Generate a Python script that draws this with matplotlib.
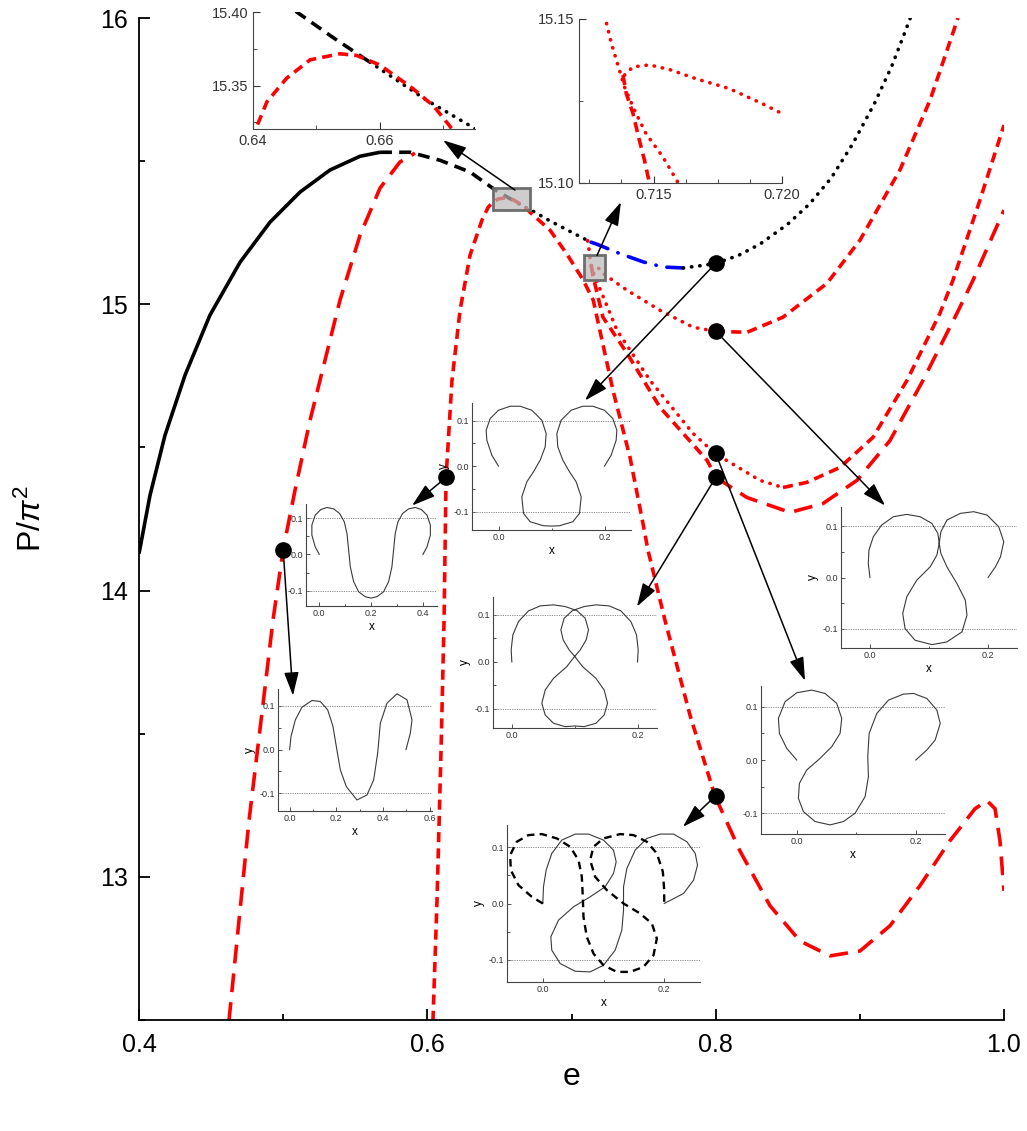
import numpy as np
import matplotlib
matplotlib.use('Agg')
import matplotlib.pyplot as plt
from matplotlib.patches import Rectangle
from matplotlib.ticker import MultipleLocator, FormatStrFormatter

plt.rcParams['font.family'] = ['Liberation Sans', 'DejaVu Sans']
plt.rcParams['mathtext.fontset'] = 'custom'
plt.rcParams['mathtext.rm'] = 'Liberation Sans'
plt.rcParams['mathtext.it'] = 'Liberation Sans:italic'

# ---- main branches (e, P/pi^2) ----
bs_x = [0.4, 0.4076, 0.418, 0.4319, 0.4492, 0.4701, 0.4909, 0.5117, 0.5325, 0.5533, 0.5672]
bs_y = [14.129, 14.332, 14.542, 14.752, 14.962, 15.147, 15.287, 15.392, 15.469, 15.517, 15.531]
bd_x = [0.5672, 0.588, 0.6088, 0.6296, 0.6469, 0.6525, 0.6584]
bd_y = [15.531, 15.531, 15.503, 15.462, 15.40, 15.383, 15.366]
bt1_x = [0.6584, 0.6674, 0.6749, 0.683, 0.692, 0.7015, 0.7107, 0.7135]
bt1_y = [15.366, 15.34, 15.321, 15.297, 15.273, 15.248, 15.224, 15.217]
bl_x = [0.7135, 0.7175, 0.7336, 0.7498, 0.7637, 0.7775]
bl_y = [15.217, 15.21, 15.177, 15.148, 15.13, 15.127]
bt2_x = [0.7775, 0.7914, 0.8, 0.8155, 0.8307, 0.85, 0.865, 0.88, 0.895, 0.91, 0.922, 0.932, 0.935]
bt2_y = [15.127, 15.136, 15.143, 15.17, 15.21, 15.28, 15.35, 15.44, 15.56, 15.70, 15.83, 15.96, 16.0]

rl_x = [0.4624, 0.4763, 0.4874, 0.4929, 0.5, 0.5082, 0.5186, 0.529, 0.5394, 0.5533, 0.5672, 0.581, 0.5914]
rl_y = [12.497, 13.196, 13.661, 13.895, 14.143, 14.35, 14.594, 14.804, 15.014, 15.241, 15.406, 15.497, 15.528]

rm1_x = [0.6039, 0.6067, 0.6095, 0.6116, 0.613, 0.6171, 0.6227, 0.6296, 0.6379, 0.6422, 0.6453, 0.649,
         0.6537, 0.6563, 0.66, 0.6652, 0.6685, 0.6713, 0.6851, 0.6966, 0.7082, 0.7151, 0.7288, 0.7406,
         0.7496, 0.7531, 0.7649, 0.7823, 0.7995]
rm1_y = [12.497, 12.916, 13.44, 13.895, 14.395, 14.734, 14.979, 15.171, 15.294, 15.339, 15.355, 15.3675,
         15.3716, 15.3705, 15.364, 15.348, 15.336, 15.321, 15.259, 15.177, 15.084, 15.014, 14.699, 14.465,
         14.234, 14.14, 13.895, 13.563, 13.283]
rm2_x = [0.7995, 0.8169, 0.8377, 0.8585, 0.8793, 0.9001, 0.9209, 0.9417, 0.9625, 0.9799, 0.9882, 0.9938, 0.9972, 1.0]
rm2_y = [13.283, 13.09, 12.899, 12.776, 12.724, 12.741, 12.829, 12.969, 13.126, 13.238, 13.266, 13.238, 13.126, 12.951]

ra1_x = [0.7112, 0.7122, 0.71313, 0.71336, 0.71365, 0.71387, 0.71426, 0.71471, 0.71536, 0.71594,
         0.7316, 0.7545, 0.7843, 0.7995, 0.8307, 0.8467]
ra1_y = [15.222, 15.19, 15.15, 15.1426, 15.135, 15.1293, 15.1222, 15.115, 15.108, 15.1003,
         14.909, 14.734, 14.549, 14.479, 14.385, 14.36]
ra2_x = [0.8467, 0.8633, 0.8862, 0.9091, 0.9327, 0.9556, 0.9646, 0.9833, 1.0]
ra2_y = [14.36, 14.378, 14.43, 14.535, 14.734, 14.969, 15.084, 15.364, 15.626]

rb1_x = [0.71381, 0.71394, 0.7142, 0.71445, 0.71465, 0.71484, 0.7218, 0.7385, 0.7614, 0.794, 0.8003]
rb1_y = [15.1329, 15.1273, 15.1212, 15.113, 15.1069, 15.10, 14.955, 14.829, 14.64, 14.455, 14.395]
rb2_x = [0.8003, 0.8217, 0.8516, 0.8744, 0.898, 0.9209, 0.9438, 0.9674, 0.9785, 1.0]
rb2_y = [14.395, 14.325, 14.273, 14.304, 14.385, 14.524, 14.734, 14.969, 15.084, 15.329]

rc1_x = [0.71387, 0.7142, 0.71484, 0.71562, 0.71665, 0.71794, 0.71923, 0.71994, 0.7218, 0.7385, 0.7614, 0.7843, 0.7995]
rc1_y = [15.1329, 15.1354, 15.136, 15.1346, 15.1318, 15.1288, 15.1242, 15.1214, 15.108, 15.049, 14.979, 14.92, 14.906]
rc2_x = [0.7995, 0.8217, 0.8467, 0.8772, 0.9001, 0.9278, 0.9487, 0.9681]
rc2_y = [14.906, 14.902, 14.955, 15.073, 15.224, 15.469, 15.713, 16.0]

pts_x = [0.5, 0.613, 0.8, 0.8, 0.8, 0.8, 0.8]
pts_y = [14.143, 14.395, 15.143, 14.906, 14.479, 14.395, 13.283]
# arrow targets (e, P) for each point, same order
arr_x = [0.5068, 0.5894, 0.7094, 0.9175, 0.862, 0.7454, 0.7773]
arr_y = [13.633, 14.297, 14.664, 14.297, 13.685, 13.944, 13.175]

# ---- shapes in the small panels (x, y) ----
s3_x = [0, -0.0126, -0.022, -0.0233, -0.0157, 0, 0.022, 0.0409, 0.0629, 0.0818, 0.0899, 0.0881, 0.0786,
        0.066, 0.0535, 0.044, 0.0472, 0.0597, 0.0849, 0.1]
s3_y = [0, 0.0241, 0.0569, 0.0788, 0.1044, 0.1226, 0.1314, 0.1314, 0.1226, 0.1007, 0.0715, 0.0423, 0.0131,
        -0.0124, -0.0343, -0.0672, -0.1036, -0.1219, -0.1307, -0.1314]
s4_x = [0, -0.0155, -0.0284, -0.0284, -0.0155, 0.0064, 0.0296, 0.0554, 0.0786, 0.0966, 0.107, 0.1134,
        0.1198, 0.1327, 0.152, 0.1778, 0.2]
s4_y = [0, 0.0211, 0.0532, 0.0807, 0.1083, 0.1239, 0.1294, 0.1257, 0.1128, 0.0899, 0.0578, 0.0119,
        -0.034, -0.0752, -0.1028, -0.1165, -0.1202]
s5_x = [0, 0.0057, 0.0243, 0.0529, 0.0957, 0.1314, 0.1629, 0.1857, 0.2, 0.2171, 0.2429, 0.2886, 0.3314,
        0.36, 0.3771, 0.3886, 0.4171, 0.46, 0.5029, 0.5243, 0.5171, 0.4986]
s5_y = [0, 0.0299, 0.0682, 0.0973, 0.1126, 0.1103, 0.0912, 0.0529, 0.0069, -0.0467, -0.0851, -0.1157,
        -0.1042, -0.0697, -0.0084, 0.0605, 0.1065, 0.128, 0.1142, 0.0682, 0.0375, 0]
s6_x = [0, -0.0011, 0.0016, 0.0106, 0.0265, 0.0451, 0.0663, 0.0849, 0.1034, 0.1167, 0.122, 0.1183, 0.1088,
        0.0997, 0.0875, 0.0663, 0.0531, 0.0477, 0.0531, 0.0663, 0.0849, 0.1]
s6_y = [0, 0.0255, 0.0574, 0.0858, 0.1085, 0.1191, 0.1213, 0.1177, 0.1092, 0.0929, 0.0681, 0.0468, 0.0255,
        0.0113, -0.0099, -0.0348, -0.0596, -0.0879, -0.1128, -0.1305, -0.1376, -0.1362]
s7_x = [0, -0.0028, -0.0017, 0.0057, 0.0198, 0.0397, 0.0623, 0.085, 0.1048, 0.115, 0.1173, 0.1133, 0.102,
        0.0793, 0.0623, 0.0555, 0.0595, 0.0765, 0.1048, 0.1303, 0.1558, 0.1643, 0.1615, 0.1473, 0.1303,
        0.1201, 0.1173, 0.1201, 0.1303, 0.153, 0.1756, 0.1983, 0.2181, 0.2266, 0.221, 0.2125, 0.2]
s7_y = [0, 0.0275, 0.0536, 0.0797, 0.1026, 0.119, 0.1235, 0.119, 0.1059, 0.0863, 0.0667, 0.0438, 0.0209,
        -0.0052, -0.0379, -0.0706, -0.1, -0.1229, -0.1314, -0.1261, -0.1065, -0.0739, -0.0444, -0.0118, 0.0209,
        0.0471, 0.0667, 0.0895, 0.1124, 0.1255, 0.1288, 0.1222, 0.0993, 0.0699, 0.0405, 0.0209, 0]
s8_x = [0, -0.0168, -0.0291, -0.0308, -0.0196, 0, 0.0252, 0.0476, 0.0672, 0.0756, 0.0728, 0.0588, 0.0392,
        0.0168, 0.0045, 0.0028, 0.0112, 0.0308, 0.056, 0.0784, 0.098, 0.1148, 0.1204, 0.1193, 0.1216, 0.1345,
        0.1541, 0.1793, 0.1961, 0.2185, 0.2353, 0.241, 0.2325, 0.2185, 0.2]
s8_y = [0, 0.0219, 0.05, 0.0781, 0.1094, 0.1263, 0.1313, 0.125, 0.1063, 0.0781, 0.05, 0.025, 0.0031,
        -0.0188, -0.0438, -0.0719, -0.0969, -0.1156, -0.1219, -0.1156, -0.1, -0.0688, -0.0313, 0.0063, 0.05,
        0.0875, 0.1125, 0.1238, 0.125, 0.1156, 0.0938, 0.0688, 0.0375, 0.0188, 0]
s9a_x = [0, 0.0011, 0.0055, 0.0148, 0.0313, 0.0533, 0.0753, 0.1, 0.1165, 0.1209, 0.1165, 0.1027, 0.078,
         0.0505, 0.0258, 0.0132, 0.0148, 0.0286, 0.0533, 0.078, 0.1, 0.1192, 0.1302, 0.133, 0.133, 0.1385,
         0.1522, 0.1714, 0.1934, 0.2154, 0.2374, 0.2511, 0.2549, 0.2484, 0.2319, 0.2]
s9a_y = [0, 0.0298, 0.0595, 0.0893, 0.1131, 0.1238, 0.1238, 0.1131, 0.0952, 0.0744, 0.0536, 0.0298, 0.0119,
         -0.006, -0.0298, -0.0595, -0.0833, -0.1071, -0.1208, -0.122, -0.1101, -0.0833, -0.0476, -0.0119, 0.0298,
         0.0625, 0.0952, 0.1161, 0.1238, 0.1238, 0.1101, 0.0893, 0.0685, 0.0417, 0.0179, 0]
s9b_x = [0, -0.0181, -0.0401, -0.0527, -0.0538, -0.0429, -0.0236, -0.0016, 0.0231, 0.0451, 0.0588, 0.0643,
         0.0659, 0.067, 0.0725, 0.0835, 0.1, 0.122, 0.144, 0.1659, 0.1824, 0.1879, 0.1797, 0.1604, 0.133,
         0.1055, 0.0863, 0.078, 0.0835, 0.1, 0.1275, 0.1495, 0.1714, 0.1879, 0.1978, 0.2, 0.2]
s9b_y = [0, 0.0119, 0.0327, 0.0595, 0.0863, 0.1101, 0.122, 0.1238, 0.1161, 0.1012, 0.0774, 0.0476,
         0.0119, -0.0238, -0.0595, -0.0893, -0.1101, -0.122, -0.122, -0.1131, -0.0923, -0.0625, -0.0357, -0.0179, 0,
         0.0238, 0.0476, 0.0774, 0.1012, 0.1161, 0.1238, 0.122, 0.1101, 0.0893, 0.0565, 0.0238, 0.003]

W, H = 1027, 1131
fig = plt.figure(figsize=(W / 100, H / 100), dpi=100)


def box(l, t, r, b):
    return [l / W, 1 - b / H, (r - l) / W, (b - t) / H]


LW = 2.6
SOLID = None
DASH = (2.8, 1.7)
LONG = (5.2, 2.8)
BDASH = (3.3, 2.0)
DOT = (0.1, 2.2)
DASHDOT = (5.0, 3.0, 0.1, 3.0)


def line(a, x, y, color, dashes, lw=LW, rnd=False):
    l, = a.plot(x, y, color=color, lw=lw, solid_capstyle='butt', solid_joinstyle='round')
    if dashes is not None:
        l.set_dashes(dashes)
        l.set_dash_capstyle('round' if rnd else 'butt')
    return l


def branches(a):
    line(a, bs_x, bs_y, 'k', SOLID)
    line(a, bd_x, bd_y, 'k', BDASH)
    line(a, bt1_x, bt1_y, 'k', DOT, rnd=True)
    line(a, bl_x, bl_y, '#0000ff', DASHDOT, rnd=True)
    line(a, bt2_x, bt2_y, 'k', DOT, rnd=True)
    line(a, rl_x, rl_y, '#ff0000', LONG)
    line(a, rm1_x, rm1_y, '#ff0000', DASH)
    line(a, rm2_x, rm2_y, '#ff0000', LONG)
    line(a, ra1_x, ra1_y, '#ff0000', DOT, rnd=True)
    line(a, ra2_x, ra2_y, '#ff0000', DASH)
    line(a, rb1_x, rb1_y, '#ff0000', DASH)
    line(a, rb2_x, rb2_y, '#ff0000', LONG)
    line(a, rc1_x, rc1_y, '#ff0000', DOT, rnd=True)
    line(a, rc2_x, rc2_y, '#ff0000', DASH)


ax = fig.add_axes(box(139, 18, 1004, 1020))
ax.patch.set_alpha(0)
branches(ax)
ax.set_xlim(0.4, 1.0)
ax.set_ylim(12.5, 16.0)
for s in ['top', 'right']:
    ax.spines[s].set_visible(False)
for s in ['left', 'bottom']:
    ax.spines[s].set_linewidth(1.3)
ax.xaxis.set_major_locator(MultipleLocator(0.2))
ax.xaxis.set_minor_locator(MultipleLocator(0.1))
ax.yaxis.set_major_locator(MultipleLocator(1))
ax.yaxis.set_minor_locator(MultipleLocator(0.5))
ax.xaxis.set_major_formatter(FormatStrFormatter('%.1f'))
ax.yaxis.set_major_formatter(FormatStrFormatter('%d'))
ax.tick_params(which='both', direction='in', width=1.3, labelsize=18)
ax.tick_params(which='major', length=8)
ax.tick_params(which='minor', length=4)
ax.tick_params(axis='x', pad=9)
ax.tick_params(axis='y', pad=8)
ax.set_xlabel('e', fontsize=23)
ax.set_ylabel(r'P/$\pi^2$', fontsize=23)
ax.xaxis.set_label_coords(0.5, -0.042)
ax.yaxis.set_label_coords(-0.105, 0.5)

ax.add_patch(Rectangle((0.6455, 15.3287), 0.0257, 0.0769, facecolor=(0.72, 0.72, 0.72, 0.7),
                       edgecolor='#6e6e6e', lw=2, zorder=5))
ax.add_patch(Rectangle((0.7087, 15.084), 0.0145, 0.087, facecolor=(0.72, 0.72, 0.72, 0.7),
                       edgecolor='#6e6e6e', lw=2, zorder=5))

ap = dict(arrowstyle='-|>,head_length=0.8,head_width=0.25', color='k', lw=1.1,
          mutation_scale=18, shrinkA=0, shrinkB=0)
for px, py, tx, ty in zip(pts_x, pts_y, arr_x, arr_y):
    ax.annotate('', xy=(tx, ty), xytext=(px, py), arrowprops=ap, zorder=6)
ax.annotate('', xy=(0.6109, 15.573), xytext=(0.6608, 15.399), arrowprops=ap, zorder=6)
ax.annotate('', xy=(0.7343, 15.357), xytext=(0.7177, 15.171), arrowprops=ap, zorder=6)
ax.plot(pts_x, pts_y, 'o', color='k', ms=11, zorder=7, clip_on=False)


def zoom_inset(rect, xlim, ylim, xt, yt, xminor, yminor, xfmt, yfmt):
    a = fig.add_axes(box(*rect))
    a.patch.set_alpha(0)
    branches(a)
    a.set_xlim(*xlim)
    a.set_ylim(*ylim)
    for s in ['top', 'right']:
        a.spines[s].set_visible(False)
    for s in ['left', 'bottom']:
        a.spines[s].set_color('#444444')
    a.set_xticks(xt)
    a.set_yticks(yt)
    a.xaxis.set_minor_locator(MultipleLocator(xminor))
    a.yaxis.set_minor_locator(MultipleLocator(yminor))
    a.xaxis.set_major_formatter(FormatStrFormatter(xfmt))
    a.yaxis.set_major_formatter(FormatStrFormatter(yfmt))
    a.tick_params(which='both', direction='in', labelsize=10.5, colors='#333333')
    a.tick_params(which='major', length=5)
    a.tick_params(which='minor', length=3)
    return a


zoom_inset((253, 12, 475, 129), (0.64, 0.675), (15.3205, 15.40), [0.64, 0.66], [15.35, 15.40],
           0.01, 0.025, '%.2f', '%.2f')
zoom_inset((579, 19, 782, 183), (0.7121, 0.72), (15.10, 15.15), [0.715, 0.72], [15.10, 15.15],
           0.00125, 0.025, '%.3f', '%.2f')


def shape_inset(rect, xlim, ylim, xt, curves, xl=True, yl=True):
    a = fig.add_axes(box(*rect))
    a.patch.set_alpha(0)
    for yv in (0.1, -0.1):
        a.axhline(yv, color='#8a8a8a', lw=0.7, ls=(0, (1.2, 1.2)))
    for x, y, st in curves:
        if st == 'dash':
            a.plot(x, y, color='k', lw=1.7, dashes=(3.2, 2.2), solid_joinstyle='round')
        else:
            a.plot(x, y, color='#3a3a3a', lw=0.8, solid_joinstyle='round')
    a.set_xlim(*xlim)
    a.set_ylim(*ylim)
    for s in ['top', 'right']:
        a.spines[s].set_visible(False)
    for s in ['left', 'bottom']:
        a.spines[s].set_color('#444444')
        a.spines[s].set_linewidth(0.8)
    a.set_xticks(xt)
    a.set_yticks([-0.1, 0.0, 0.1])
    a.xaxis.set_minor_locator(MultipleLocator(0.1))
    a.yaxis.set_minor_locator(MultipleLocator(0.05))
    a.xaxis.set_major_formatter(FormatStrFormatter('%.1f'))
    a.yaxis.set_major_formatter(FormatStrFormatter('%.1f'))
    a.tick_params(which='both', direction='in', labelsize=6.5, colors='#333333', width=0.6, pad=2)
    a.tick_params(which='major', length=3)
    a.tick_params(which='minor', length=1.8)
    if xl:
        a.set_xlabel('x', fontsize=8.5, labelpad=2)
    if yl:
        a.set_ylabel('y', fontsize=8.5, labelpad=3)
    return a


def mirror(x, y, c):
    x = np.asarray(x)
    y = np.asarray(y)
    return np.concatenate([x, (2 * c - x)[::-1][1:]]), np.concatenate([y, y[::-1][1:]])


m3 = mirror(s3_x, s3_y, 0.1)
m4 = mirror(s4_x, s4_y, 0.2)
m6 = mirror(s6_x, s6_y, 0.1)

shape_inset((472, 403, 631, 530), (-0.05, 0.25), (-0.14, 0.1385), [0.0, 0.2], [(m3[0], m3[1], 's')])
shape_inset((306, 504, 437, 606), (-0.051, 0.454), (-0.142, 0.139), [0.0, 0.2, 0.4],
            [(m4[0], m4[1], 's')], yl=False)
shape_inset((278, 689, 432, 811), (-0.05, 0.61), (-0.141, 0.139), [0.0, 0.2, 0.4, 0.6],
            [(s5_x, s5_y, 's')])
shape_inset((493, 597, 657, 728), (-0.03, 0.231), (-0.1405, 0.138), [0.0, 0.2],
            [(m6[0], m6[1], 's')], xl=False)
shape_inset((841, 507, 1017, 648), (-0.049, 0.249), (-0.138, 0.138), [0.0, 0.2], [(s7_x, s7_y, 's')])
shape_inset((761, 686, 945, 834), (-0.06, 0.249), (-0.139, 0.139), [0.0, 0.2], [(s8_x, s8_y, 's')], yl=False)
shape_inset((507, 825, 700, 982), (-0.059, 0.259), (-0.14, 0.14), [0.0, 0.2],
            [(s9a_x, s9a_y, 's'), (s9b_x, s9b_y, 'dash')])

fig.savefig('out.png', dpi=100)
